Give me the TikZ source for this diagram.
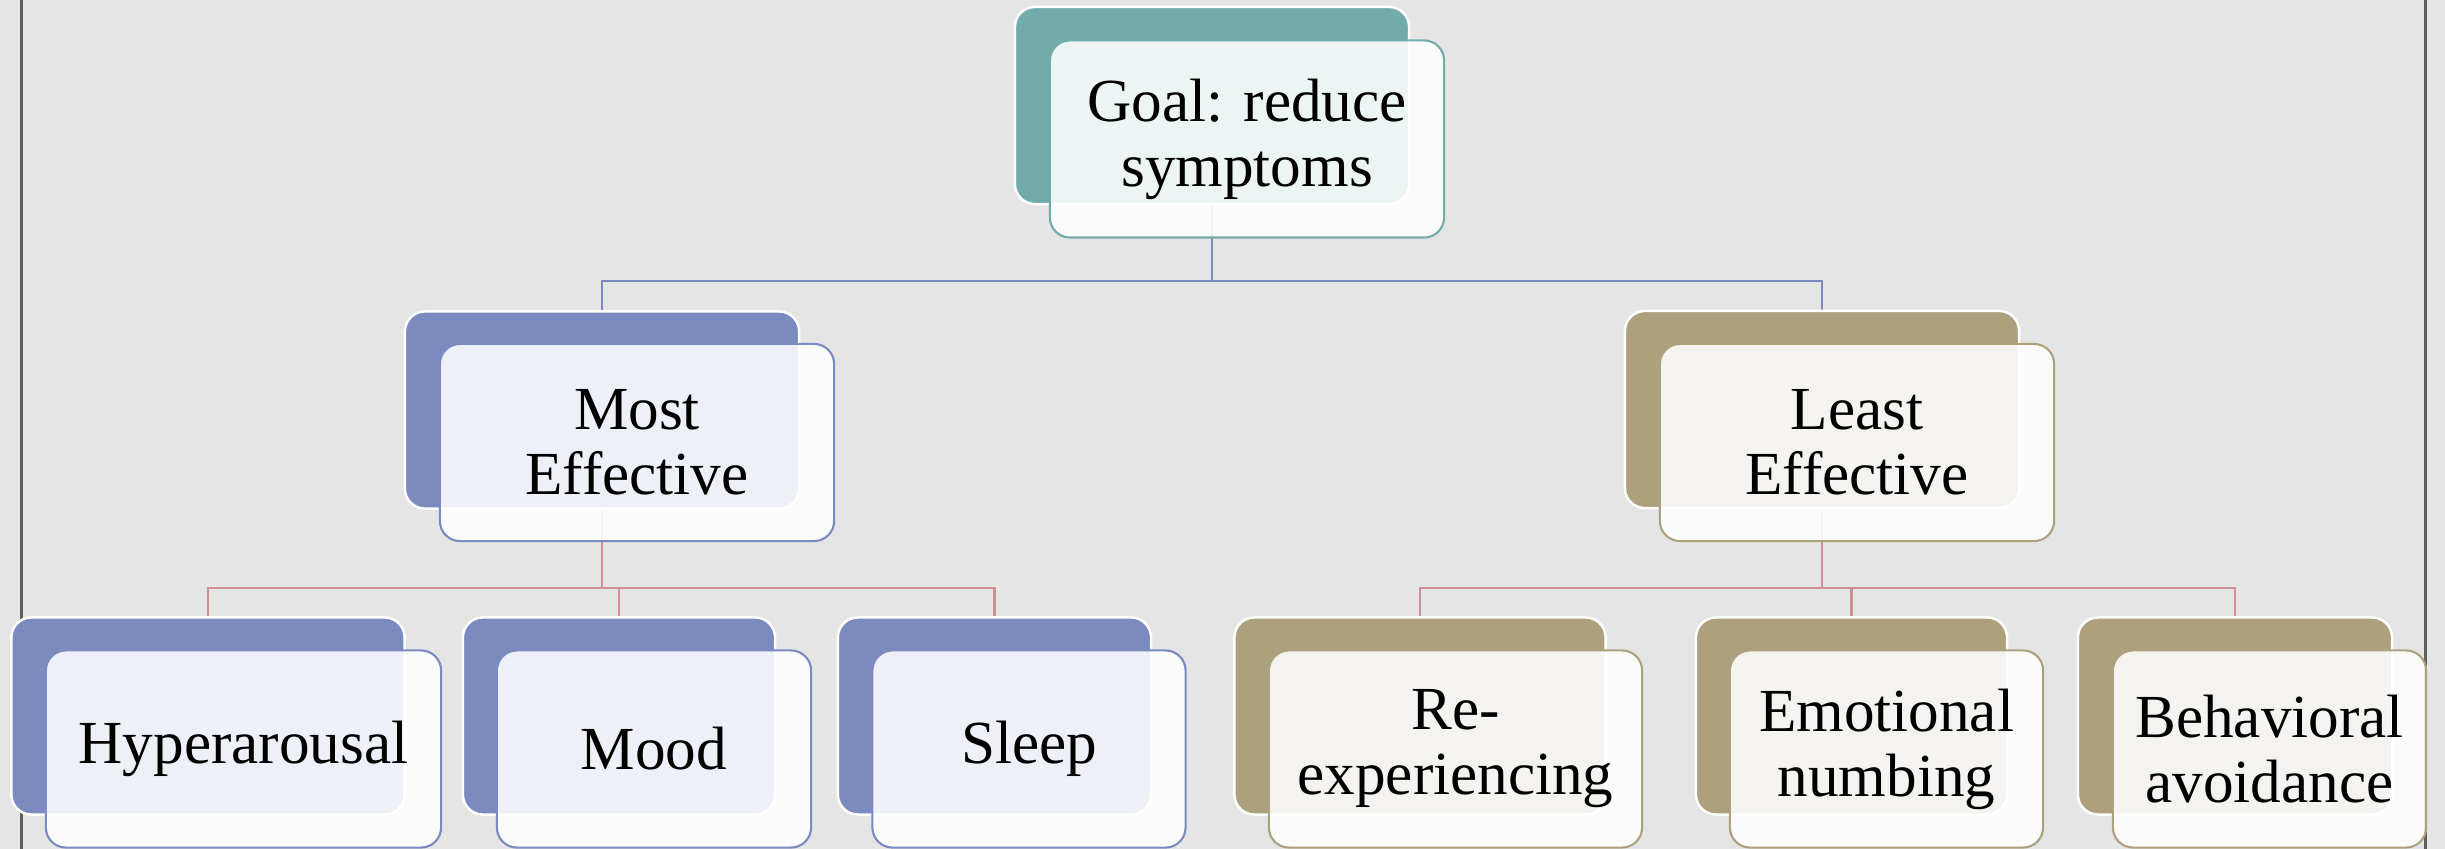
\documentclass[tikz,border=0pt]{standalone}
\usepackage{fontspec}
\setmainfont{Liberation Serif}
\pgfdeclarelayer{bg}
\pgfsetlayers{bg,main}
\definecolor{bgc}{HTML}{E5E5E5}
\definecolor{tealc}{HTML}{71ACAA}
\definecolor{bluec}{HTML}{7B8ABF}
\definecolor{khakic}{HTML}{ADA17D}
\definecolor{redc}{HTML}{CF9095}
\definecolor{framec}{HTML}{5E5E5E}
\begin{document}
\begin{tikzpicture}[x=0.01cm,y=-0.01cm,
  backbox/.style={rectangle, rounded corners=0.2cm, fill=#1, draw=white, line width=0.7pt, inner sep=0pt},
  frontbox/.style={rectangle, rounded corners=0.2cm, fill=white, fill opacity=0.88, text opacity=1, draw=#1, draw opacity=1, line width=0.6pt, align=center, inner sep=0pt, text=black, font=\fontsize{17.4}{18.5}\selectfont},
  topsz/.style={minimum width=3.94cm, minimum height=1.97cm},
  botsz/.style={minimum height=1.97cm},
  conn/.style={draw=#1, line width=0.6pt},
  framel/.style={draw=framec, line width=0.6pt}]
\useasboundingbox (0,0) rectangle (2445,849);

% level 0
\node[backbox=tealc, topsz] (goal-b) at (1212,105.5) {};
\node[frontbox=tealc, topsz] (goal) at (1247,139) {Goal: reduce\\symptoms};

% level 1
\node[backbox=bluec, topsz] (most-b) at (602,410) {};
\node[frontbox=bluec, topsz] (most) at (637,442.5) {Most\\Effective};
\node[backbox=khakic, topsz] (least-b) at (1822,409.5) {};
\node[frontbox=khakic, topsz] (least) at (1857,442.5) {Least\\Effective};

% level 2
\node[backbox=bluec, botsz, minimum width=3.93cm] (hyp-b) at (208,716) {};
\node[frontbox=bluec, botsz, minimum width=3.95cm] (hyp) at (243.5,749) {Hyperarousal};
\node[backbox=bluec, botsz, minimum width=3.12cm] (mood-b) at (619,716) {};
\node[frontbox=bluec, botsz, minimum width=3.14cm] (mood) at (654,749) {Mood};
\node[backbox=bluec, botsz, minimum width=3.13cm] (sleep-b) at (994.5,716) {};
\node[frontbox=bluec, botsz, minimum width=3.13cm] (sleep) at (1029,749) {Sleep};
\node[backbox=khakic, botsz, minimum width=3.71cm] (reexp-b) at (1420,716) {};
\node[frontbox=khakic, botsz, minimum width=3.73cm] (reexp) at (1455.5,749) {Re-\\experiencing};
\node[backbox=khakic, botsz, minimum width=3.11cm] (emo-b) at (1851.5,716) {};
\node[frontbox=khakic, botsz, minimum width=3.13cm] (emo) at (1886.5,749) {Emotional\\numbing};
\node[backbox=khakic, botsz, minimum width=3.14cm] (beh-b) at (2235,716) {};
\node[frontbox=khakic, botsz, minimum width=3.13cm] (beh) at (2269.5,749) {Behavioral\\avoidance};

\coordinate (j0) at (1212,281);
\coordinate (j1) at (602,588);
\coordinate (j2) at (1822,588);

\begin{pgfonlayer}{bg}
\fill[bgc] (0,0) rectangle (2445,849);
\draw[framel] (21.5,0) -- (21.5,849);
\draw[framel] (2425.5,0) -- (2425.5,849);
% goal connectors
\draw[conn=bluec] (goal-b.south) -- (j0);
\draw[conn=bluec] (most-b.north) -- (most-b.north |- j0) -- (least-b.north |- j0) -- (least-b.north);
% most connectors
\draw[conn=redc] (most-b.south) -- (j1);
\draw[conn=redc] (hyp-b.north) -- (hyp-b.north |- j1) -- (sleep-b.north |- j1) -- (sleep-b.north);
\draw[conn=redc] (mood-b.north) -- (mood-b.north |- j1);
% least connectors
\draw[conn=redc] (least-b.south) -- (j2);
\draw[conn=redc] (reexp-b.north) -- (reexp-b.north |- j2) -- (beh-b.north |- j2) -- (beh-b.north);
\draw[conn=redc] (emo-b.north) -- (emo-b.north |- j2);
\end{pgfonlayer}
\end{tikzpicture}
\end{document}
